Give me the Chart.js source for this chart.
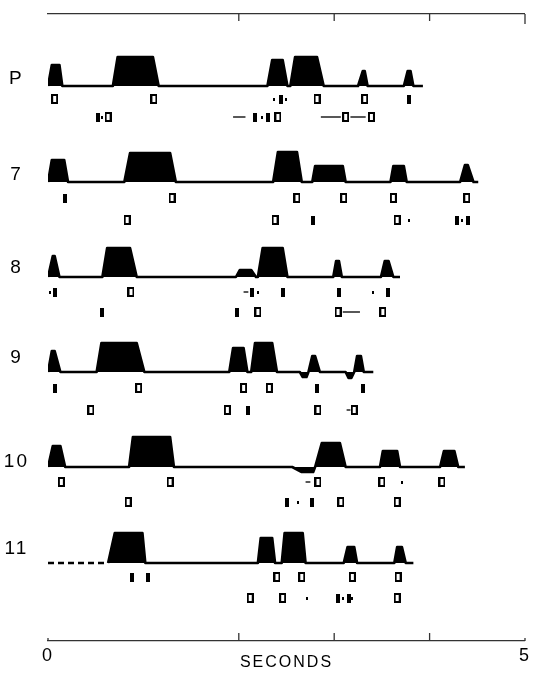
<!DOCTYPE html>
<html>
<head>
<meta charset="utf-8">
<script src="https://cdn.jsdelivr.net/npm/chart.js@4.4.1/dist/chart.umd.min.js"></script>
<style>
  html, body { margin: 0; padding: 0; background: #fff; }
  #wrap { width: 534px; height: 673px; }
</style>
</head>
<body>
<div id="wrap"><canvas id="chart" width="534" height="673"></canvas></div>
<script>
// Row names, top to bottom
const rowLabels = ['P', '7', '8', '9', '10', '11'];

// Bursts per row: [start, top begins, top ends, end, height] (seconds, trace units)
const burstsP = [[0.01, 0.04, 0.12, 0.15, 21], [0.68, 0.73, 1.10, 1.16, 29], [2.30, 2.35, 2.46, 2.51, 26], [2.54, 2.59, 2.82, 2.89, 29], [3.25, 3.30, 3.32, 3.35, 15], [3.73, 3.77, 3.80, 3.83, 15]];
const bursts7 = [[0.00, 0.04, 0.17, 0.21, 22], [0.80, 0.86, 1.28, 1.34, 29], [2.36, 2.41, 2.61, 2.66, 30], [2.77, 2.80, 3.09, 3.12, 16], [3.59, 3.62, 3.73, 3.76, 16], [4.32, 4.37, 4.40, 4.46, 17]];
const bursts8 = [[0.00, 0.05, 0.07, 0.12, 21], [0.57, 0.62, 0.86, 0.93, 29], [1.97, 2.01, 2.13, 2.18, 7], [2.20, 2.25, 2.46, 2.51, 29], [2.99, 3.02, 3.05, 3.08, 16], [3.49, 3.53, 3.57, 3.62, 16]];
const bursts9 = [[0.00, 0.04, 0.07, 0.13, 21], [0.51, 0.56, 0.93, 1.01, 29], [1.90, 1.94, 2.05, 2.09, 24], [2.13, 2.17, 2.35, 2.40, 29], [2.64, 2.67, 2.71, 2.73, -5], [2.73, 2.77, 2.80, 2.85, 16], [3.12, 3.15, 3.18, 3.21, -6], [3.21, 3.24, 3.28, 3.31, 16]];
const bursts10 = [[0.00, 0.05, 0.13, 0.18, 21], [0.85, 0.89, 1.28, 1.32, 30], [2.56, 2.66, 2.78, 2.80, -5], [2.80, 2.87, 3.06, 3.12, 24], [3.48, 3.51, 3.66, 3.69, 16], [4.11, 4.15, 4.26, 4.30, 16]];
const bursts11 = [[0.63, 0.70, 0.99, 1.02, 30], [2.20, 2.23, 2.35, 2.38, 25], [2.45, 2.48, 2.67, 2.70, 30], [3.10, 3.14, 3.21, 3.24, 16], [3.63, 3.66, 3.71, 3.75, 16]];

// Where each trace starts and stops (s); row 11 has a dashed lead-in
const traceStart = [0.00, 0.00, 0.00, 0.00, 0.00, 0.63];
const traceEnd = [3.93, 4.51, 3.69, 3.41, 4.37, 3.83];
const leadIn11 = [0.00, 0.63];

// Event marks under each trace: [time, kind] kind o = open box, f = filled bar, d = dot
const marksP1 = [[0.07, 'o'], [1.11, 'o'], [2.37, 'd'], [2.44, 'f'], [2.49, 'd'], [2.82, 'o'], [3.32, 'o'], [3.78, 'f']];
const marksP2 = [[0.52, 'f'], [0.57, 'd'], [0.63, 'o'], [2.17, 'f'], [2.24, 'd'], [2.31, 'f'], [2.41, 'o'], [3.12, 'o'], [3.39, 'o']];
const marks71 = [[0.18, 'f'], [1.30, 'o'], [2.61, 'o'], [3.10, 'o'], [3.62, 'o'], [4.39, 'o']];
const marks72 = [[0.83, 'o'], [2.38, 'o'], [2.78, 'f'], [3.66, 'o'], [3.78, 'd'], [4.29, 'f'], [4.34, 'd'], [4.40, 'f']];
const marks81 = [[0.02, 'd'], [0.07, 'f'], [0.87, 'o'], [2.14, 'f'], [2.20, 'd'], [2.46, 'f'], [3.05, 'f'], [3.41, 'd'], [3.56, 'f']];
const marks82 = [[0.57, 'f'], [1.98, 'f'], [2.20, 'o'], [3.04, 'o'], [3.51, 'o']];
const marks91 = [[0.07, 'f'], [0.95, 'o'], [2.05, 'o'], [2.32, 'o'], [2.82, 'f'], [3.30, 'f']];
const marks92 = [[0.45, 'o'], [1.88, 'o'], [2.10, 'f'], [2.83, 'o'], [3.21, 'o']];
const marks101 = [[0.14, 'o'], [1.28, 'o'], [2.83, 'o'], [3.50, 'o'], [3.71, 'd'], [4.13, 'o']];
const marks102 = [[0.84, 'o'], [2.51, 'f'], [2.62, 'd'], [2.77, 'f'], [3.07, 'o'], [3.66, 'o']];
const marks111 = [[0.88, 'f'], [1.05, 'f'], [2.40, 'o'], [2.66, 'o'], [3.19, 'o'], [3.67, 'o']];
const marks112 = [[2.12, 'o'], [2.46, 'o'], [2.71, 'd'], [3.04, 'f'], [3.09, 'd'], [3.15, 'f'], [3.19, 'd'], [3.66, 'o']];

// Short connecting dashes between marks: [from, to, mark line]
const dashesP = [[1.94, 2.07, 2], [2.86, 3.07, 2], [3.17, 3.33, 2]];
const dashes8 = [[2.05, 2.10, 1], [3.09, 3.27, 2]];
const dashes9 = [[3.13, 3.17, 2]];
const dashes10 = [[2.70, 2.75, 1]];

// Inner ticks on the time axes (s)
const tickSeconds = [2, 3, 4];
const endSeconds = [0, 5];

const bursts = [burstsP, bursts7, bursts8, bursts9, bursts10, bursts11];
const marksTop = [marksP1, marks71, marks81, marks91, marks101, marks111];
const marksBottom = [marksP2, marks72, marks82, marks92, marks102, marks112];
const dashes = [dashesP, [], dashes8, dashes9, dashes10, []];

// layout (pixels)
const PLOT_TOP = 14, PLOT_BOTTOM = 641;
const baseY = [86, 182, 277, 372, 467, 563];
const labelY = [79, 175, 268, 358, 462, 549];
const gap1 = [13, 16, 15, 16, 15, 14];
const gap2 = [31, 38, 35, 38, 35, 35];
const toVal = py => PLOT_BOTTOM - py;
const FONT = "'Liberation Sans', Arial, sans-serif";

function glyph(w, h, draw) {
  const c = document.createElement('canvas');
  c.width = w; c.height = h;
  const g = c.getContext('2d');
  g.fillStyle = '#000'; g.strokeStyle = '#000';
  draw(g);
  return c;
}
const glyphs = {
  o: glyph(7, 10, g => { g.lineWidth = 2; g.strokeRect(1, 1, 5, 8); }),
  f: glyph(4, 9, g => g.fillRect(0, 0, 4, 9)),
  d: glyph(2, 3, g => g.fillRect(0, 0, 2, 3))
};

const datasets = [];

bursts.forEach((list, r) => {
  const base = toVal(baseY[r]);
  const pts = [{ x: traceStart[r], y: base }];
  list.forEach(b => {
    pts.push({ x: b[0], y: base }, { x: b[1], y: base + b[4] }, { x: b[2], y: base + b[4] }, { x: b[3], y: base });
  });
  pts.push({ x: traceEnd[r], y: base });
  datasets.push({
    data: pts,
    borderColor: '#000',
    backgroundColor: '#000',
    borderWidth: 2.6,
    borderJoinStyle: 'round',
    fill: { value: base },
    pointRadius: 0,
    tension: 0
  });
});

// dashed lead-in of row 11
datasets.push({
  data: leadIn11.map(t => ({ x: t, y: toVal(baseY[5]) })),
  borderColor: '#000',
  borderWidth: 2.6,
  borderDash: [6, 4],
  fill: false,
  pointRadius: 0
});

// marks, one dataset per kind
['o', 'f', 'd'].forEach(kind => {
  const pts = [];
  marksTop.forEach((list, r) => list.filter(m => m[1] === kind)
    .forEach(m => pts.push({ x: m[0], y: toVal(baseY[r] + gap1[r]) })));
  marksBottom.forEach((list, r) => list.filter(m => m[1] === kind)
    .forEach(m => pts.push({ x: m[0], y: toVal(baseY[r] + gap2[r]) })));
  datasets.push({
    data: pts,
    showLine: false,
    pointStyle: glyphs[kind],
    pointRadius: 4,
    pointHoverRadius: 4
  });
});

// connecting dashes
const dashPts = [];
dashes.forEach((list, r) => list.forEach(d => {
  const y = toVal(baseY[r] + (d[2] === 1 ? gap1[r] : gap2[r]));
  dashPts.push({ x: d[0], y: y }, { x: d[1], y: y }, { x: d[1], y: null });
}));
datasets.push({
  data: dashPts,
  borderColor: '#222',
  borderWidth: 1.3,
  pointRadius: 0,
  fill: false,
  spanGaps: false
});

const innerTicks = {
  id: 'innerTicks',
  beforeDraw(chart) { chart.ctx.letterSpacing = '2px'; },
  beforeDatasetsDraw(chart) { chart.ctx.letterSpacing = '0px'; },
  afterDraw(chart) {
    const { ctx, chartArea, scales } = chart;
    ctx.save();
    ctx.strokeStyle = '#333';
    ctx.lineWidth = 1.3;
    const seg = (x, y0, y1) => { ctx.beginPath(); ctx.moveTo(x, y0); ctx.lineTo(x, y1); ctx.stroke(); };
    tickSeconds.forEach(v => {
      const px = scales.x.getPixelForValue(v);
      seg(px, chartArea.bottom, chartArea.bottom - 8);
      seg(px, chartArea.top, chartArea.top + 7);
    });
    endSeconds.forEach(v => seg(scales.x.getPixelForValue(v), chartArea.bottom, chartArea.bottom - 3));
    seg(scales.x.getPixelForValue(5), chartArea.top, chartArea.top + 10);
    ctx.restore();
  }
};

new Chart(document.getElementById('chart'), {
  type: 'line',
  data: { datasets },
  plugins: [innerTicks],
  options: {
    responsive: false,
    devicePixelRatio: 1,
    animation: false,
    layout: { padding: { top: PLOT_TOP, right: 5, left: 0, bottom: 0 } },
    plugins: { legend: { display: false }, tooltip: { enabled: false } },
    scales: {
      x: {
        type: 'linear',
        position: 'bottom',
        min: 0,
        max: 5,
        afterBuildTicks: s => { s.ticks = endSeconds.map(v => ({ value: v })); },
        afterFit: s => { s.height = 673 - PLOT_BOTTOM; },
        ticks: { color: '#000', font: { family: FONT, size: 18 }, padding: 4, maxRotation: 0, autoSkip: false },
        grid: { drawOnChartArea: false, drawTicks: false },
        border: { color: '#333', width: 1.3 },
        title: { display: true, text: 'SECONDS', color: '#000', font: { family: FONT, size: 16 }, padding: { top: 0, bottom: 1 } }
      },
      x2: {
        type: 'linear',
        position: 'top',
        min: 0,
        max: 5,
        afterFit: s => { s.height = 0; },
        ticks: { display: false },
        grid: { drawOnChartArea: false, drawTicks: false },
        border: { color: '#333', width: 1.3 }
      },
      y: {
        type: 'linear',
        position: 'left',
        min: 0,
        max: PLOT_BOTTOM - PLOT_TOP,
        afterBuildTicks: s => { s.ticks = labelY.map(py => ({ value: toVal(py) })); },
        afterFit: s => { s.width = 48; s.paddingTop = 0; s.paddingBottom = 0; },
        ticks: {
          callback: (v, i) => rowLabels[i],
          color: '#000',
          font: { family: FONT, size: 19 },
          crossAlign: 'center',
          padding: 13,
          autoSkip: false
        },
        grid: { display: false },
        border: { display: false }
      }
    }
  }
});
</script>
</body>
</html>
